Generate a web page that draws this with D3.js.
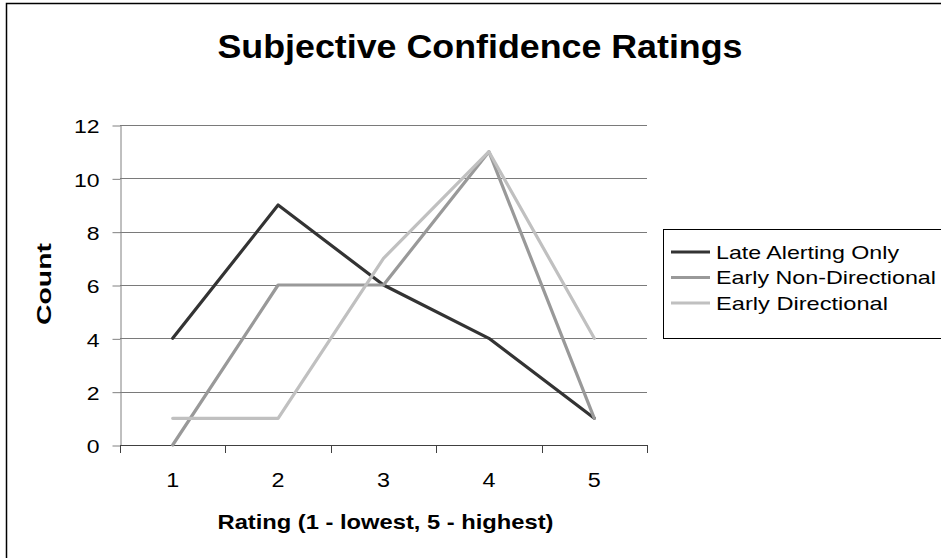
<!DOCTYPE html>
<html>
<head>
<meta charset="utf-8">
<script src="https://cdn.jsdelivr.net/npm/d3@7"></script>
<style>
  html, body { margin: 0; padding: 0; background: #ffffff; }
  svg { display: block; }
  text { font-family: "Liberation Sans", Arial, Helvetica, sans-serif; fill: #000; }
</style>
</head>
<body>
<svg id="chart" width="941" height="558"></svg>
<script>
// Ratings on the horizontal axis and counts per alerting condition
const categories = ["1", "2", "3", "4", "5"];
const lateAlertingOnly = [4, 9, 6, 4, 1];
const earlyNonDirectional = [0, 6, 6, 11, 1];
const earlyDirectional = [1, 1, 7, 11, 4];
const seriesNames = ["Late Alerting Only", "Early Non-Directional", "Early Directional"];
const yTicks = [0, 2, 4, 6, 8, 10, 12];

const seriesColors = ["#333333", "#999999", "#c0c0c0"];
const seriesValues = [lateAlertingOnly, earlyNonDirectional, earlyDirectional];

const svg = d3.select("#chart");
const plot = { left: 120, right: 647, top: 125, bottom: 445 };

const x = d3.scaleBand().domain(categories).range([plot.left, plot.right]).padding(0);
const y = d3.scaleLinear().domain([0, 12]).range([plot.bottom, plot.top]);

// Outer frame (only the top and left edges fall inside the page)
svg.append("path")
  .attr("d", "M6.5,558 L6.5,3.5 L941,3.5")
  .attr("fill", "none")
  .attr("stroke", "#000")
  .attr("stroke-width", 1.5);

// Title
svg.append("text")
  .attr("x", 480).attr("y", 57.5)
  .attr("text-anchor", "middle")
  .attr("font-size", 33).attr("font-weight", "bold")
  .attr("textLength", 525).attr("lengthAdjust", "spacingAndGlyphs")
  .text("Subjective Confidence Ratings");

// Horizontal gridlines
svg.append("g")
  .selectAll("line")
  .data(yTicks.filter(v => v > 0))
  .join("line")
  .attr("x1", plot.left).attr("x2", plot.right)
  .attr("y1", d => Math.round(y(d)) + 0.5).attr("y2", d => Math.round(y(d)) + 0.5)
  .attr("stroke", "#7a7a7a").attr("stroke-width", 1);

// Y axis
const yAxis = svg.append("g")
  .attr("transform", `translate(${plot.left + 0.5},0.5)`)
  .call(d3.axisLeft(y).tickValues(yTicks).tickSize(8).tickPadding(13).tickSizeOuter(0));
yAxis.select(".domain").attr("stroke", "#808080");
yAxis.selectAll(".tick line").attr("stroke", "#808080");
yAxis.selectAll(".tick text")
  .attr("font-size", 18.6)
  .attr("font-family", null)
  .attr("dy", "0.4em")
  .attr("textLength", d => String(d).length * 12.8)
  .attr("lengthAdjust", "spacingAndGlyphs");

// X axis: baseline line, ticks at band boundaries, labels at band centres
svg.append("line")
  .attr("x1", plot.left).attr("x2", plot.right)
  .attr("y1", plot.bottom + 0.5).attr("y2", plot.bottom + 0.5)
  .attr("stroke", "#404040");

const boundaries = categories.map(c => x(c)).concat([x.range()[1]]);
svg.append("g")
  .selectAll("line")
  .data(boundaries)
  .join("line")
  .attr("x1", d => Math.round(d) + 0.5).attr("x2", d => Math.round(d) + 0.5)
  .attr("y1", plot.bottom).attr("y2", plot.bottom + 8)
  .attr("stroke", "#404040");

const xAxis = svg.append("g")
  .attr("transform", `translate(0,${plot.bottom})`)
  .call(d3.axisBottom(x).tickSize(0).tickPadding(0));
xAxis.select(".domain").remove();
xAxis.selectAll(".tick text")
  .attr("font-size", 19.5)
  .attr("font-family", null)
  .attr("y", 42).attr("dy", 0)
  .attr("textLength", 13)
  .attr("lengthAdjust", "spacingAndGlyphs");

// Axis titles
svg.append("text")
  .attr("x", 385.5).attr("y", 528.5)
  .attr("text-anchor", "middle")
  .attr("font-size", 20.5).attr("font-weight", "bold")
  .attr("textLength", 336).attr("lengthAdjust", "spacingAndGlyphs")
  .text("Rating (1 - lowest, 5 - highest)");

svg.append("text")
  .attr("transform", "translate(51,284) rotate(-90)")
  .attr("text-anchor", "middle")
  .attr("font-size", 21).attr("font-weight", "bold")
  .attr("textLength", 82).attr("lengthAdjust", "spacingAndGlyphs")
  .text("Count");

// Series lines
const line = d3.line()
  .x((d, i) => x(categories[i]) + x.bandwidth() / 2)
  .y(d => y(d));

svg.append("g")
  .selectAll("path")
  .data(seriesValues)
  .join("path")
  .attr("d", d => line(d))
  .attr("fill", "none")
  .attr("stroke", (d, i) => seriesColors[i])
  .attr("stroke-width", 3.2)
  .attr("stroke-linejoin", "round")
  .attr("stroke-linecap", "round");

// Legend
const legend = svg.append("g");
legend.append("rect")
  .attr("x", 663.5).attr("y", 229.5)
  .attr("width", 320).attr("height", 109)
  .attr("fill", "#fff").attr("stroke", "#000").attr("stroke-width", 1);

const legendRowY = [252, 277.5, 303];
const legendTextLen = [183, 220, 172];
const items = legend.selectAll("g.item")
  .data(seriesNames)
  .join("g")
  .attr("class", "item")
  .attr("transform", (d, i) => `translate(0,${legendRowY[i]})`);
items.append("line")
  .attr("x1", 671).attr("x2", 710)
  .attr("y1", 0).attr("y2", 0)
  .attr("stroke", (d, i) => seriesColors[i])
  .attr("stroke-width", 3.2);
items.append("text")
  .attr("x", 716).attr("y", 6.5)
  .attr("font-size", 18.6)
  .attr("textLength", (d, i) => legendTextLen[i])
  .attr("lengthAdjust", "spacingAndGlyphs")
  .text(d => d);
</script>
</body>
</html>
